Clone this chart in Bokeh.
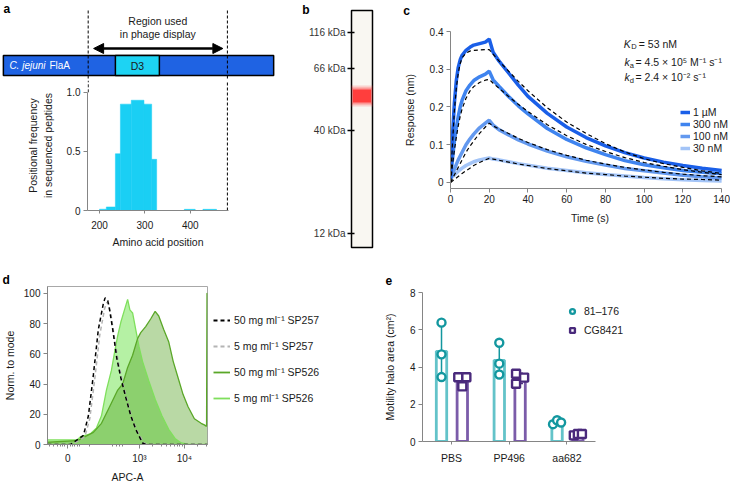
import numpy as np
from bokeh.plotting import figure
from bokeh.layouts import row, column
from bokeh.models import (Range1d, FixedTicker, Label, Legend, LegendItem, Arrow,
                          NormalHead)
from bokeh.core.properties import value
from bokeh.embed import file_html
from bokeh.resources import INLINE

# ---------------- data ----------------
# panel a: FlaA schematic (amino-acid positions) and positional frequency histogram
flaA_drawn = [-12, 584]
d3_domain = [235, 332]
phage_region = [175, 482]
bin_left = [200, 215, 235, 246, 270, 298, 315, 387, 428]
bin_right = [215, 235, 246, 270, 298, 315, 326, 411, 458]
pos_freq = [0.011, 0.03, 0.48, 0.90, 0.933, 0.90, 0.433, 0.01, 0.01]

# panel b: gel (migration distance from top of lane, arbitrary units)
lane_length = 237
marker_kda = [116, 66, 40, 12]
marker_migration = [22, 58, 120, 223]
band_migration = [79, 92]

# panel c: BLI sensorgrams
time_s = [0, 1, 2, 3, 4, 5, 6, 8, 10, 12, 15, 18, 20, 22, 25, 30, 35, 40, 50, 60, 70, 80, 90, 100, 110, 120, 130, 140]
resp_1uM = [0.010, 0.120, 0.210, 0.270, 0.305, 0.325, 0.337, 0.350, 0.358, 0.364, 0.368, 0.372, 0.380, 0.345, 0.322, 0.290, 0.258, 0.228, 0.183, 0.147, 0.119, 0.097, 0.079, 0.065, 0.054, 0.045, 0.038, 0.032]
fit_1uM = [0.000, 0.100, 0.190, 0.250, 0.290, 0.315, 0.330, 0.343, 0.348, 0.350, 0.351, 0.352, 0.352, 0.340, 0.322, 0.295, 0.268, 0.243, 0.198, 0.160, 0.130, 0.103, 0.081, 0.063, 0.050, 0.040, 0.031, 0.024]
resp_300nM = [0.010, 0.060, 0.110, 0.145, 0.175, 0.200, 0.218, 0.243, 0.258, 0.270, 0.280, 0.287, 0.295, 0.272, 0.255, 0.228, 0.203, 0.182, 0.143, 0.114, 0.092, 0.074, 0.058, 0.047, 0.039, 0.032, 0.027, 0.023]
fit_300nM = [0.000, 0.045, 0.085, 0.120, 0.150, 0.175, 0.195, 0.223, 0.242, 0.254, 0.265, 0.271, 0.273, 0.263, 0.250, 0.228, 0.207, 0.188, 0.153, 0.124, 0.101, 0.082, 0.066, 0.053, 0.043, 0.034, 0.027, 0.021]
resp_100nM = [0.010, 0.022, 0.035, 0.048, 0.060, 0.070, 0.080, 0.100, 0.115, 0.128, 0.145, 0.157, 0.165, 0.152, 0.140, 0.126, 0.113, 0.102, 0.083, 0.068, 0.056, 0.046, 0.037, 0.031, 0.025, 0.019, 0.015, 0.012]
fit_100nM = [0.000, 0.010, 0.020, 0.030, 0.040, 0.050, 0.060, 0.080, 0.096, 0.110, 0.130, 0.147, 0.157, 0.150, 0.142, 0.130, 0.117, 0.106, 0.087, 0.072, 0.059, 0.049, 0.040, 0.033, 0.027, 0.022, 0.018, 0.015]
resp_30nM = [0.010, 0.015, 0.020, 0.025, 0.030, 0.034, 0.038, 0.045, 0.050, 0.055, 0.060, 0.063, 0.065, 0.062, 0.060, 0.055, 0.050, 0.046, 0.038, 0.032, 0.026, 0.021, 0.017, 0.013, 0.010, 0.007, 0.005, 0.004]
fit_30nM = [0.000, 0.004, 0.008, 0.012, 0.016, 0.020, 0.024, 0.031, 0.038, 0.045, 0.053, 0.060, 0.064, 0.062, 0.059, 0.054, 0.049, 0.045, 0.037, 0.031, 0.025, 0.021, 0.017, 0.014, 0.011, 0.009, 0.008, 0.006]
conc_labels = ["1 µM", "300 nM", "100 nM", "30 nM"]
KD_text = "= 53 nM"
ka_text = "= 4.5 × 10⁵ M⁻¹ s⁻¹"
kd_text = "= 2.4 × 10⁻² s⁻¹"

# panel d: flow cytometry histograms (x in logicle display units: 3 = 10^3, 4 = 10^4)
apc_zero_pos = 1.41
u_sp257_50 = [0.963, 1.47, 1.76, 1.87, 1.98, 2.09, 2.20, 2.24, 2.30, 2.34, 2.41, 2.50, 2.59, 2.70, 2.81, 2.92, 3.07, 3.14, 4.511]
n_sp257_50 = [0, 0, 6, 19, 46, 76, 93, 97, 95, 89, 76, 57, 44, 31, 19, 10, 1, 0, 0]
u_sp257_5 = [0.963, 1.50, 1.79, 1.90, 2.01, 2.12, 2.23, 2.28, 2.32, 2.37, 2.44, 2.53, 2.62, 2.73, 2.84, 2.95, 3.10, 3.17, 4.511]
n_sp257_5 = [0, 0, 5, 17, 43, 72, 90, 94, 93, 86, 72, 55, 42, 29, 17, 9, 1, 0, 0]
u_sp526_5 = [0.963, 1.30, 1.62, 1.69, 1.91, 2.05, 2.16, 2.27, 2.38, 2.45, 2.52, 2.59, 2.67, 2.74, 2.79, 2.85, 2.92, 2.99, 3.07, 3.21, 3.35, 3.50, 3.65, 3.79, 3.93, 4.10, 4.511]
n_sp526_5 = [3, 3, 3, 5, 7, 11, 19, 36, 49, 61, 72, 81, 89, 96, 89, 87, 76, 65, 55, 42, 30, 19, 10, 4, 1, 0, 0]
u_sp526_50 = [0.963, 1.62, 1.98, 2.16, 2.34, 2.52, 2.63, 2.74, 2.85, 2.96, 3.03, 3.14, 3.25, 3.35, 3.43, 3.54, 3.65, 3.75, 3.86, 3.97, 4.08, 4.22, 4.37, 4.44, 4.49, 4.50, 4.511]
n_sp526_50 = [1.5, 2.5, 8, 14, 25, 36, 40, 51, 59, 70, 74, 78, 83, 88, 85, 76, 68, 55, 44, 33, 25, 17, 14, 13, 12, 100, 100]
flow_labels = ["50 mg ml⁻¹ SP257", "5 mg ml⁻¹ SP257", "50 mg ml⁻¹ SP526", "5 mg ml⁻¹ SP526"]

# panel e: motility halo areas
conditions = ["PBS", "PP496", "aa682"]
halo_81176 = [[6.38, 4.68, 3.46], [5.30, 4.18, 3.60], [0.93, 1.14, 1.02]]
halo_cg8421 = [[3.45, 2.96, 3.45], [3.64, 3.10, 3.43], [0.33, 0.40, 0.40]]
jitter_81176 = [[0, 0, 0], [0, 0, 0], [-0.07, 0, 0.07]]
jitter_cg8421 = [[-0.07, 0, 0.07], [-0.07, -0.07, 0.07], [-0.07, 0, 0.07]]
strain_labels = ["81–176", "CG8421"]

# ---------------- styling helpers ----------------
FONT = "Liberation Sans"
AX = "#858585"
TXT = "#1a1a1a"


def base_fig(**kw):
    p = figure(output_backend="svg", toolbar_location=None, frame_align=False, **kw)
    p.grid.visible = False
    p.outline_line_color = None
    p.border_fill_color = "white"
    return p


def plain_fig(width, height, **kw):
    # figure whose frame is the whole canvas (no axes)
    return base_fig(width=width, height=height, x_axis_location=None, y_axis_location=None,
                    min_border=0, **kw)


def style_axes(p):
    for ax in p.axis:
        ax.axis_line_color = AX
        ax.axis_line_width = 1
        ax.major_tick_line_color = AX
        ax.minor_tick_line_color = None
        ax.major_tick_out = 4
        ax.major_tick_in = 0
        ax.major_label_text_font = FONT
        ax.major_label_text_font_size = "10px"
        ax.major_label_text_color = TXT
        ax.axis_label_text_font = FONT
        ax.axis_label_text_font_size = "10.5px"
        ax.axis_label_text_font_style = "normal"
        ax.axis_label_text_color = TXT
        ax.major_label_standoff = 3
        ax.axis_label_standoff = 4


def letters(p, xs, ys, chars):
    p.text(x=xs, y=ys, text=chars, text_font=value(FONT), text_font_size="12px",
           text_font_style="bold", text_color="black", text_baseline="alphabetic")


# ---------------- panel a (schematic) ----------------
PX_PER_AA = 0.4535
A_X0 = 173.5
pa0 = plain_fig(282, 80, x_range=Range1d(A_X0 - 87 / PX_PER_AA, A_X0 + 195 / PX_PER_AA),
                y_range=Range1d(80, 0))
pa0.quad(left=[flaA_drawn[0]], right=[flaA_drawn[1]], top=[55], bottom=[75],
         fill_color="#1f63e3", line_color="black", line_width=1.5)
pa0.quad(left=[d3_domain[0]], right=[d3_domain[1]], top=[55], bottom=[75],
         fill_color="#1dd3f3", line_color="black", line_width=1.5)
pa0.segment(x0=phage_region, y0=[10, 10], x1=phage_region, y1=[80, 80],
            line_color="black", line_width=1, line_dash="3 2")
pa0.text(x=[flaA_drawn[0]], y=[65], text=["C. jejuni"], x_offset=6,
         text_font=value(FONT), text_font_size="10px", text_font_style="italic",
         text_color="white", text_baseline="middle")
pa0.text(x=[flaA_drawn[0]], y=[65], text=["FlaA"], x_offset=46,
         text_font=value(FONT), text_font_size="10px",
         text_color="white", text_baseline="middle")
pa0.text(x=[(d3_domain[0] + d3_domain[1]) / 2], y=[65], text=["D3"],
         text_font=value(FONT), text_font_size="10.5px", text_color=TXT,
         text_align="center", text_baseline="middle")
mid_region = (phage_region[0] + phage_region[1]) / 2
pa0.text(x=[mid_region, mid_region], y=[20, 33], text=["Region used", "in phage display"],
         text_font=value(FONT), text_font_size="10.5px", text_color=TXT,
         text_align="center", text_baseline="middle")
pa0.add_layout(Arrow(start=NormalHead(size=10, fill_color="black", line_color="black"),
                     end=NormalHead(size=10, fill_color="black", line_color="black"),
                     x_start=phage_region[0] + 12, y_start=48,
                     x_end=phage_region[1] - 10, y_end=48,
                     line_width=2.5, line_color="black"))
pa0.add_layout(Label(x=3, y=80 - 8.5, x_units="screen", y_units="screen", text="a",
                     text_font=FONT, text_font_size="12px", text_font_style="bold",
                     text_baseline="alphabetic", text_color="black"))

# ---------------- panel a (histogram) ----------------
pa = base_fig(width=282, height=170, x_range=Range1d(A_X0, A_X0 + 141 / PX_PER_AA),
              y_range=Range1d(0, 1.1),
              min_border_left=87, min_border_right=54, min_border_top=0, min_border_bottom=38)
pa.quad(left=bin_left, right=bin_right, bottom=0, top=pos_freq,
        fill_color="#1acff4", line_color="#1acff4", line_width=0.5)
pa.segment(x0=phage_region, y0=[1.0, 0.0], x1=phage_region, y1=[1.1, 1.1],
           line_color="black", line_width=1, line_dash="3 2")
style_axes(pa)
pa.yaxis.bounds = (0, 1)
pa.yaxis.ticker = FixedTicker(ticks=[0, 0.5, 1.0])
pa.yaxis.major_label_overrides = {0: "0", 0.5: "0.5", 1: "1.0"}
pa.yaxis.axis_label = "Positional frequency\nin sequenced peptides"
pa.yaxis.axis_label_standoff = 10
pa.xaxis.ticker = FixedTicker(ticks=[200, 300, 400])
pa.xaxis.major_tick_out = 3
pa.xaxis.major_label_standoff = 7
pa.xaxis.axis_label = "Amino acid position"
pa.xaxis.axis_label_standoff = 4

# ---------------- panel b (gel): x in page px, y = migration ----------------
pb = plain_fig(118, 250, x_range=Range1d(282, 400), y_range=Range1d(lane_length + 3, -10))
pb.quad(left=[351], right=[372], top=[0], bottom=[lane_length],
        fill_color="#f9f7f2", line_color="black", line_width=1.5)
for grow, alpha in [(4, 0.18), (2, 0.35), (0, 0.85)]:
    pb.quad(left=[352.5 - grow * 0.5], right=[370.5 + grow * 0.5],
            top=[band_migration[0] - grow], bottom=[band_migration[1] + grow],
            fill_color="#ff2e2e", fill_alpha=alpha, line_color=None)
pb.segment(x0=[347] * len(marker_migration), y0=marker_migration,
           x1=[354] * len(marker_migration), y1=marker_migration,
           line_color="black", line_width=1.5)
pb.text(x=[345] * len(marker_migration), y=marker_migration,
        text=[f"{k} kDa" for k in marker_kda], text_font=value(FONT),
        text_font_size="10px", text_color="#333333", text_align="right",
        text_baseline="middle")
letters(pb, [301.7], [-0.7], ["b"])

# ---------------- panel c (BLI) ----------------
pc_strip = plain_fig(330, 24, x_range=Range1d(0, 330), y_range=Range1d(24, 0))
letters(pc_strip, [2.7], [10], ["c"])
C_PX_PER_S = 276 / 140
pc = base_fig(width=330, height=226, x_range=Range1d(0, 284 / C_PX_PER_S),
              y_range=Range1d(-0.0159, 0.4),
              min_border_left=45, min_border_right=1, min_border_top=7, min_border_bottom=62)
c_colors = ["#1a5fe8", "#3f84ef", "#6399ef", "#a3c4f7"]
resp_all = [resp_1uM, resp_300nM, resp_100nM, resp_30nM]
fit_all = [fit_1uM, fit_300nM, fit_100nM, fit_30nM]
c_items = []
for r, col, lab in zip(resp_all[::-1], c_colors[::-1], conc_labels[::-1]):
    rr = pc.line(time_s, r, line_color=col, line_width=3.5)
    c_items.insert(0, LegendItem(label=lab, renderers=[rr]))
for f in fit_all:
    pc.line(time_s, f, line_color="black", line_width=1.2, line_dash="4 3")
style_axes(pc)
pc.xaxis.bounds = (0, 140)
pc.xaxis.ticker = FixedTicker(ticks=list(range(0, 141, 20)))
pc.yaxis.ticker = FixedTicker(ticks=[0, 0.1, 0.2, 0.3, 0.4])
pc.yaxis.major_label_overrides = {0: "0"}
pc.xaxis.axis_label = "Time (s)"
pc.yaxis.axis_label = "Response (nm)"
pc.xaxis.major_label_standoff = 2
pc.xaxis.axis_label_standoff = 6
pc.yaxis.axis_label_standoff = 11
leg_c = Legend(items=c_items, location=(230, 34.2), glyph_width=10, glyph_height=10,
               label_height=10, spacing=0, padding=0, margin=0, label_standoff=3,
               label_text_font=FONT, label_text_font_size="10.5px", label_text_color=TXT,
               label_text_baseline="middle", border_line_alpha=0, background_fill_alpha=0)
pc.add_layout(leg_c)


def ctext(x, y, t, size="10.5px", style="normal"):
    pc.add_layout(Label(x=x, y=y, x_units="screen", y_units="screen", text=t,
                        text_font=FONT, text_font_size=size, text_font_style=style,
                        text_baseline="alphabetic", text_color=TXT))


ctext(173.3, 144.7, "K", style="italic")
ctext(180.7, 141.7, "D", size="7.5px")
ctext(188.3, 144.7, KD_text)
ctext(174, 126.3, "k", style="italic")
ctext(179.3, 123.3, "a", size="7.5px")
ctext(185, 126.3, ka_text)
ctext(174, 111.3, "k", style="italic")
ctext(179.3, 108.3, "d", size="7.5px")
ctext(185, 111.3, kd_text)

# ---------------- bottom strip with panel letters d and e ----------------
bottom_strip = plain_fig(730, 35, x_range=Range1d(0, 730), y_range=Range1d(35, 0))
letters(bottom_strip, [2, 385], [29.5, 29.5], ["d", "e"])

# ---------------- panel d (flow cytometry) ----------------
pdd = base_fig(width=213, height=200, x_range=Range1d(0.963, 4.511), y_range=Range1d(0, 104.5),
               min_border_left=43, min_border_right=6, min_border_top=1, min_border_bottom=36)
pdd.outline_line_color = "#a8a8a8"
pdd.varea(x=u_sp526_5, y1=0, y2=n_sp526_5, fill_color="#78e65a", fill_alpha=0.55)
pdd.varea(x=u_sp526_50, y1=0, y2=n_sp526_50, fill_color="#50a01e", fill_alpha=0.4)
pdd.line(u_sp526_5, n_sp526_5, line_color="#7fdf5c", line_width=1.3)
pdd.line(u_sp526_50, n_sp526_50, line_color="#5aa728", line_width=1.3)
pdd.line(u_sp257_5, n_sp257_5, line_color="#b4b4b4", line_width=1.5, line_dash="4 3")
pdd.line(u_sp257_50, n_sp257_50, line_color="black", line_width=1.5, line_dash="4 3")
style_axes(pdd)
pdd.xaxis.ticker = FixedTicker(ticks=[apc_zero_pos, 3, 4],
                               minor_ticks=[1.0, 1.1, 1.18, 1.25, 1.3, 1.35, 1.47, 1.52, 1.57, 1.62, 1.68,
                                            1.89, 2.41, 2.5, 2.57, 2.63, 3.30, 3.48, 3.60, 3.70,
                                            3.78, 3.85, 3.90, 3.95, 4.30, 4.48])
pdd.xaxis.minor_tick_line_color = AX
pdd.xaxis.minor_tick_out = 2
pdd.xaxis.minor_tick_in = 0
pdd.xaxis.major_label_overrides = {apc_zero_pos: "0", 3: "10³", 4: "10⁴"}
pdd.yaxis.ticker = FixedTicker(ticks=[0, 20, 40, 60, 80, 100])
pdd.xaxis.axis_label = "APC-A"
pdd.yaxis.axis_label = "Norm. to mode"
pdd.xaxis.major_label_standoff = 4
pdd.xaxis.axis_label_standoff = 4
pdd.yaxis.axis_label_standoff = 5

# legend of panel d, on its own canvas right of the histogram frame; the legend
# proxies carry the same data but lie outside this canvas' ranges (not visible)
pd_leg = plain_fig(167, 200, x_range=Range1d(-10, -9), y_range=Range1d(-10, -9))
g1 = pd_leg.line(u_sp257_50, n_sp257_50, line_color="black", line_width=1.8, line_dash="4 3")
g2 = pd_leg.line(u_sp257_5, n_sp257_5, line_color="#b4b4b4", line_width=1.8, line_dash="4 3")
g3 = pd_leg.line(u_sp526_50, n_sp526_50, line_color="#5aa728", line_width=1.8)
g4 = pd_leg.line(u_sp526_5, n_sp526_5, line_color="#7fdf5c", line_width=1.8)
leg_d = Legend(items=[LegendItem(label=lab, renderers=[g]) for lab, g in zip(flow_labels, [g1, g2, g3, g4])],
               location=(0, 80.5), glyph_width=17, glyph_height=12, label_height=12,
               spacing=12, padding=0, margin=0, label_standoff=4,
               label_text_font=FONT, label_text_font_size="10.5px", label_text_color=TXT,
               label_text_baseline="middle", border_line_alpha=0, background_fill_alpha=0)
pd_leg.add_layout(leg_d)

# ---------------- panel e (motility) ----------------
E_UNIT = 58.3
pe = base_fig(width=350, height=200, x_range=Range1d(0, 3.6), y_range=Range1d(0, 8),
              min_border_left=40, min_border_right=int(350 - 40 - 3.6 * E_UNIT),
              min_border_top=7, min_border_bottom=44)
strains = [(halo_81176, jitter_81176, -0.171, "#63c3c9", "#13979f", "circle"),
           (halo_cg8421, jitter_cg8421, 0.189, "#7b5ca9", "#4a2a7c", "square")]
e_items = []
for (vals, jit, off, light, dark, marker), lab in zip(strains, strain_labels):
    xc = [i + 0.5 + off for i in range(len(conditions))]
    means = [float(np.mean(v)) for v in vals]
    sds = [float(np.std(v, ddof=1)) for v in vals]
    pe.vbar(x=xc, width=0.18, top=means, bottom=0, fill_color="white",
            line_color=light, line_width=2.8)
    lo = [m - s for m, s in zip(means, sds)]
    hi = [m + s for m, s in zip(means, sds)]
    pe.segment(x0=xc, y0=lo, x1=xc, y1=hi, line_color=dark, line_width=1.5)
    pe.segment(x0=[x - 0.05 for x in xc], y0=hi, x1=[x + 0.05 for x in xc], y1=hi,
               line_color=dark, line_width=1.5)
    pe.segment(x0=[x - 0.05 for x in xc], y0=lo, x1=[x + 0.05 for x in xc], y1=lo,
               line_color=dark, line_width=1.5)
    px, py = [], []
    for i, (v, j) in enumerate(zip(vals, jit)):
        for vv, jj in zip(v, j):
            px.append(xc[i] + jj)
            py.append(vv)
    sr = pe.scatter(px, py, marker=marker, size=8, fill_color="white",
                    line_color=dark, line_width=2.4)
    e_items.append(LegendItem(label=lab, renderers=[sr]))
style_axes(pe)
pe.xaxis.bounds = (0, 3)
pe.yaxis.ticker = FixedTicker(ticks=[0, 2, 4, 6, 8])
pe.xaxis.ticker = FixedTicker(ticks=[0.5, 1.5, 2.5])
pe.xaxis.major_label_overrides = {0.5: conditions[0], 1.5: conditions[1], 2.5: conditions[2]}
pe.xaxis.major_label_text_font_size = "10.5px"
pe.xaxis.major_tick_out = 3
pe.xaxis.major_label_standoff = 7
pe.yaxis.axis_label = "Motility halo area (cm²)"
pe.yaxis.axis_label_standoff = 11
leg_e = Legend(items=e_items, location=(144, 105), glyph_width=12, glyph_height=12,
               label_height=12, spacing=7, padding=0, margin=0, label_standoff=6,
               label_text_font=FONT, label_text_font_size="10.5px", label_text_color=TXT,
               label_text_baseline="middle", border_line_alpha=0, background_fill_alpha=0)
pe.add_layout(leg_e)

layout = column(row(column(pa0, pa), pb, column(pc_strip, pc)),
                column(bottom_strip, row(pdd, pd_leg, pe)))
open("out.html", "w").write(file_html(layout, INLINE))
